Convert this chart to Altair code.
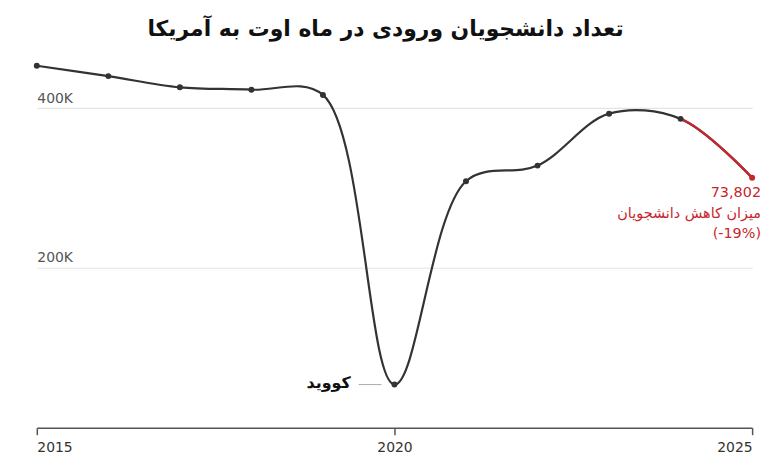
import altair as alt
import pandas as pd

# ---- data ----
years = [2015, 2016, 2017, 2018, 2019, 2020, 2021, 2022, 2023, 2024, 2025]
students = [453000, 440000, 426000, 423000, 416500, 54000, 308500, 328000, 393000, 386500, 312700]
x_ticks = [2015, 2020, 2025]
y_ticks = [200000, 400000]
y_tick_labels = ["200K", "400K"]

title_text = "تعداد دانشجویان ورودی در ماه اوت به آمریکا"
covid_label = "کووید"
drop_value = "73,802"
drop_label = "میزان کاهش دانشجویان"
drop_pct = "(-19%)"

DARK = "#333333"
RED = "#c8262c"

df = pd.DataFrame({"year": years, "students": students})
recent = df[df["year"] >= 2023]
last = df[df["year"] == 2025]
covid = df[df["year"] == 2020]
dots = df[df["year"] < 2025]

label_expr = (
    f"datum.value == {y_ticks[0]} ? '{y_tick_labels[0]}' : "
    f"(datum.value == {y_ticks[1]} ? '{y_tick_labels[1]}' : '')"
)

x = alt.X(
    "year:Q",
    scale=alt.Scale(domain=[2015, 2025], nice=False, zero=False),
    axis=alt.Axis(
        values=x_ticks, format="d", title=None, grid=False,
        domainColor="#555555", domainWidth=1.5, tickColor="#555555",
        tickWidth=1.5, tickSize=7, labelFont="DejaVu Sans", labelFontSize=14,
        labelColor=DARK, labelPadding=6, labelFlush=True,
    ),
)
y = alt.Y(
    "students:Q",
    scale=alt.Scale(domain=[0, 460000], nice=False),
    axis=alt.Axis(
        values=y_ticks, labelExpr=label_expr, title=None, domain=False,
        ticks=False, tickSize=0, labelPadding=0, labelAlign="left",
        labelBaseline="bottom", labelOffset=-3,
        labelFont="DejaVu Sans", labelFontSize=14, labelColor="#555555",
        gridColor="#e4e4e4", gridWidth=1.2,
    ),
)

base = alt.Chart(df)

line = base.mark_line(interpolate="catmull-rom", color=DARK, strokeWidth=2.2).encode(x=x, y=y)

red_line = alt.Chart(recent).mark_line(
    interpolate="catmull-rom", color=RED, strokeWidth=2.4, strokeDash=[0, 73, 1000]
).encode(x="year:Q", y="students:Q")

pts = alt.Chart(dots).mark_circle(size=36, color=DARK, opacity=1).encode(x="year:Q", y="students:Q")
red_pt = alt.Chart(last).mark_circle(size=36, color=RED, opacity=1).encode(x="year:Q", y="students:Q")

covid_text = alt.Chart(covid).mark_text(
    align="right", baseline="middle", dx=-44, dy=-2, font="DejaVu Sans",
    fontSize=16, fontWeight="bold", color="#111111",
).encode(x="year:Q", y="students:Q", text=alt.value(covid_label))

covid_rule = alt.Chart(covid).mark_rule(
    color="#aaaaaa", strokeWidth=1, xOffset=-36, x2Offset=-13
).encode(x="year:Q", x2="year:Q", y="students:Q")

def red_text(txt, dy):
    return alt.Chart(last).mark_text(
        align="right", baseline="middle", dx=9, dy=dy, font="DejaVu Sans",
        fontSize=14.5, color=RED,
    ).encode(x="year:Q", y="students:Q", text=alt.value(txt))

chart = alt.layer(
    line, red_line, pts, red_pt, covid_rule, covid_text,
    red_text(drop_value, 15), red_text(drop_label, 36), red_text(drop_pct, 57),
).properties(
    width=720, height=370,
    title=alt.Title(
        title_text, font="DejaVu Sans", fontSize=22, fontWeight="bold",
        color="#111111", anchor="middle", dx=-9, offset=19,
    ),
    padding={"left": 29, "top": 51, "right": 20, "bottom": 30},
    autosize=alt.AutoSizeParams(type="none"),
).configure_view(stroke=None)

chart.save("out.html", embed_options={"renderer": "svg", "actions": False})
